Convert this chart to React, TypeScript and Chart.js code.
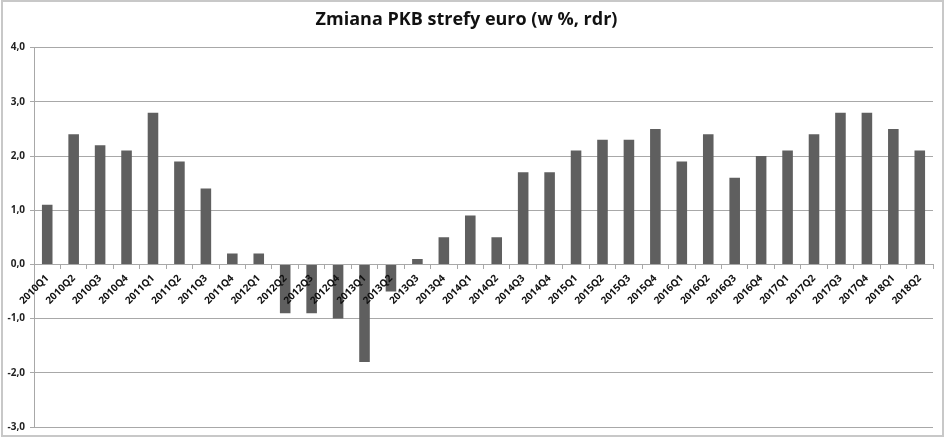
import { useEffect, useRef } from 'react';
import { Chart, registerables } from 'chart.js';
Chart.register(...registerables);

const kwartaly = [
  '2010Q1','2010Q2','2010Q3','2010Q4',
  '2011Q1','2011Q2','2011Q3','2011Q4',
  '2012Q1','2012Q2','2012Q3','2012Q4',
  '2013Q1','2013Q2','2013Q3','2013Q4',
  '2014Q1','2014Q2','2014Q3','2014Q4',
  '2015Q1','2015Q2','2015Q3','2015Q4',
  '2016Q1','2016Q2','2016Q3','2016Q4',
  '2017Q1','2017Q2','2017Q3','2017Q4',
  '2018Q1','2018Q2',
];

const pkbRdr = [
  1.1, 2.4, 2.2, 2.1,
  2.8, 1.9, 1.4, 0.2,
  0.2, -0.9, -0.9, -1.0,
  -1.8, -0.5, 0.1, 0.5,
  0.9, 0.5, 1.7, 1.7,
  2.1, 2.3, 2.3, 2.5,
  1.9, 2.4, 1.6, 2.0,
  2.1, 2.4, 2.8, 2.8,
  2.5, 2.1,
];

const yMin = -3;
const yMax = 4;

const FONT = '"Open Sans", sans-serif';
const GRID = '#a8a8a8';

export default function App() {
  const canvasRef = useRef<HTMLCanvasElement>(null);

  useEffect(() => {
    document.body.style.margin = '0';
    const chart = new Chart(canvasRef.current!, {
      type: 'bar',
      data: {
        labels: kwartaly,
        datasets: [{
          label: 'PKB',
          data: pkbRdr,
          backgroundColor: '#5f5f5f',
          barPercentage: 0.4,
          categoryPercentage: 1,
        }],
      },
      options: {
        animation: false,
        responsive: true,
        maintainAspectRatio: false,
        layout: { padding: { left: 0, right: 12, top: 0, bottom: 12 } },
        plugins: {
          legend: { display: false },
          tooltip: { enabled: false },
          title: {
            display: true,
            text: 'Zmiana PKB strefy euro (w %, rdr)',
            color: '#111',
            font: { family: FONT, size: 18, weight: 'bold' },
            padding: { top: 9, bottom: 17 },
          },
        },
        scales: {
          x: {
            position: { y: 0 },
            grid: { drawOnChartArea: false, drawTicks: true, tickLength: 4, color: GRID },
            border: { display: true, color: GRID },
            ticks: {
              z: 1,
              autoSkip: false,
              maxRotation: 45,
              minRotation: 45,
              padding: 4,
              color: '#111',
              font: { family: FONT, size: 10, weight: 'bold' },
            },
          },
          y: {
            min: yMin,
            max: yMax,
            afterFit: (s: any) => { s.width = 34; },
            grid: { color: GRID, tickLength: 4 },
            border: { display: true, color: GRID },
            ticks: {
              stepSize: 1,
              padding: 5,
              color: '#222',
              font: { family: FONT, size: 10, weight: 'bold' },
              callback: (v: any) => Number(v).toFixed(1).replace('.', ','),
            },
          },
        },
      },
    });
    return () => { chart.destroy(); };
  }, []);

  return (
    <div style={{ position: 'absolute', left: 0, top: 0, width: 945, height: 439, background: '#fff' }}>
      <div style={{
        position: 'absolute', left: 1, top: 0, width: 943, height: 437,
        boxSizing: 'border-box', border: '2px solid #c8c8c8',
      }} />
      <div style={{ position: 'absolute', left: 0, top: 0, width: 945, height: 439 }}>
        <canvas ref={canvasRef} />
      </div>
    </div>
  );
}
